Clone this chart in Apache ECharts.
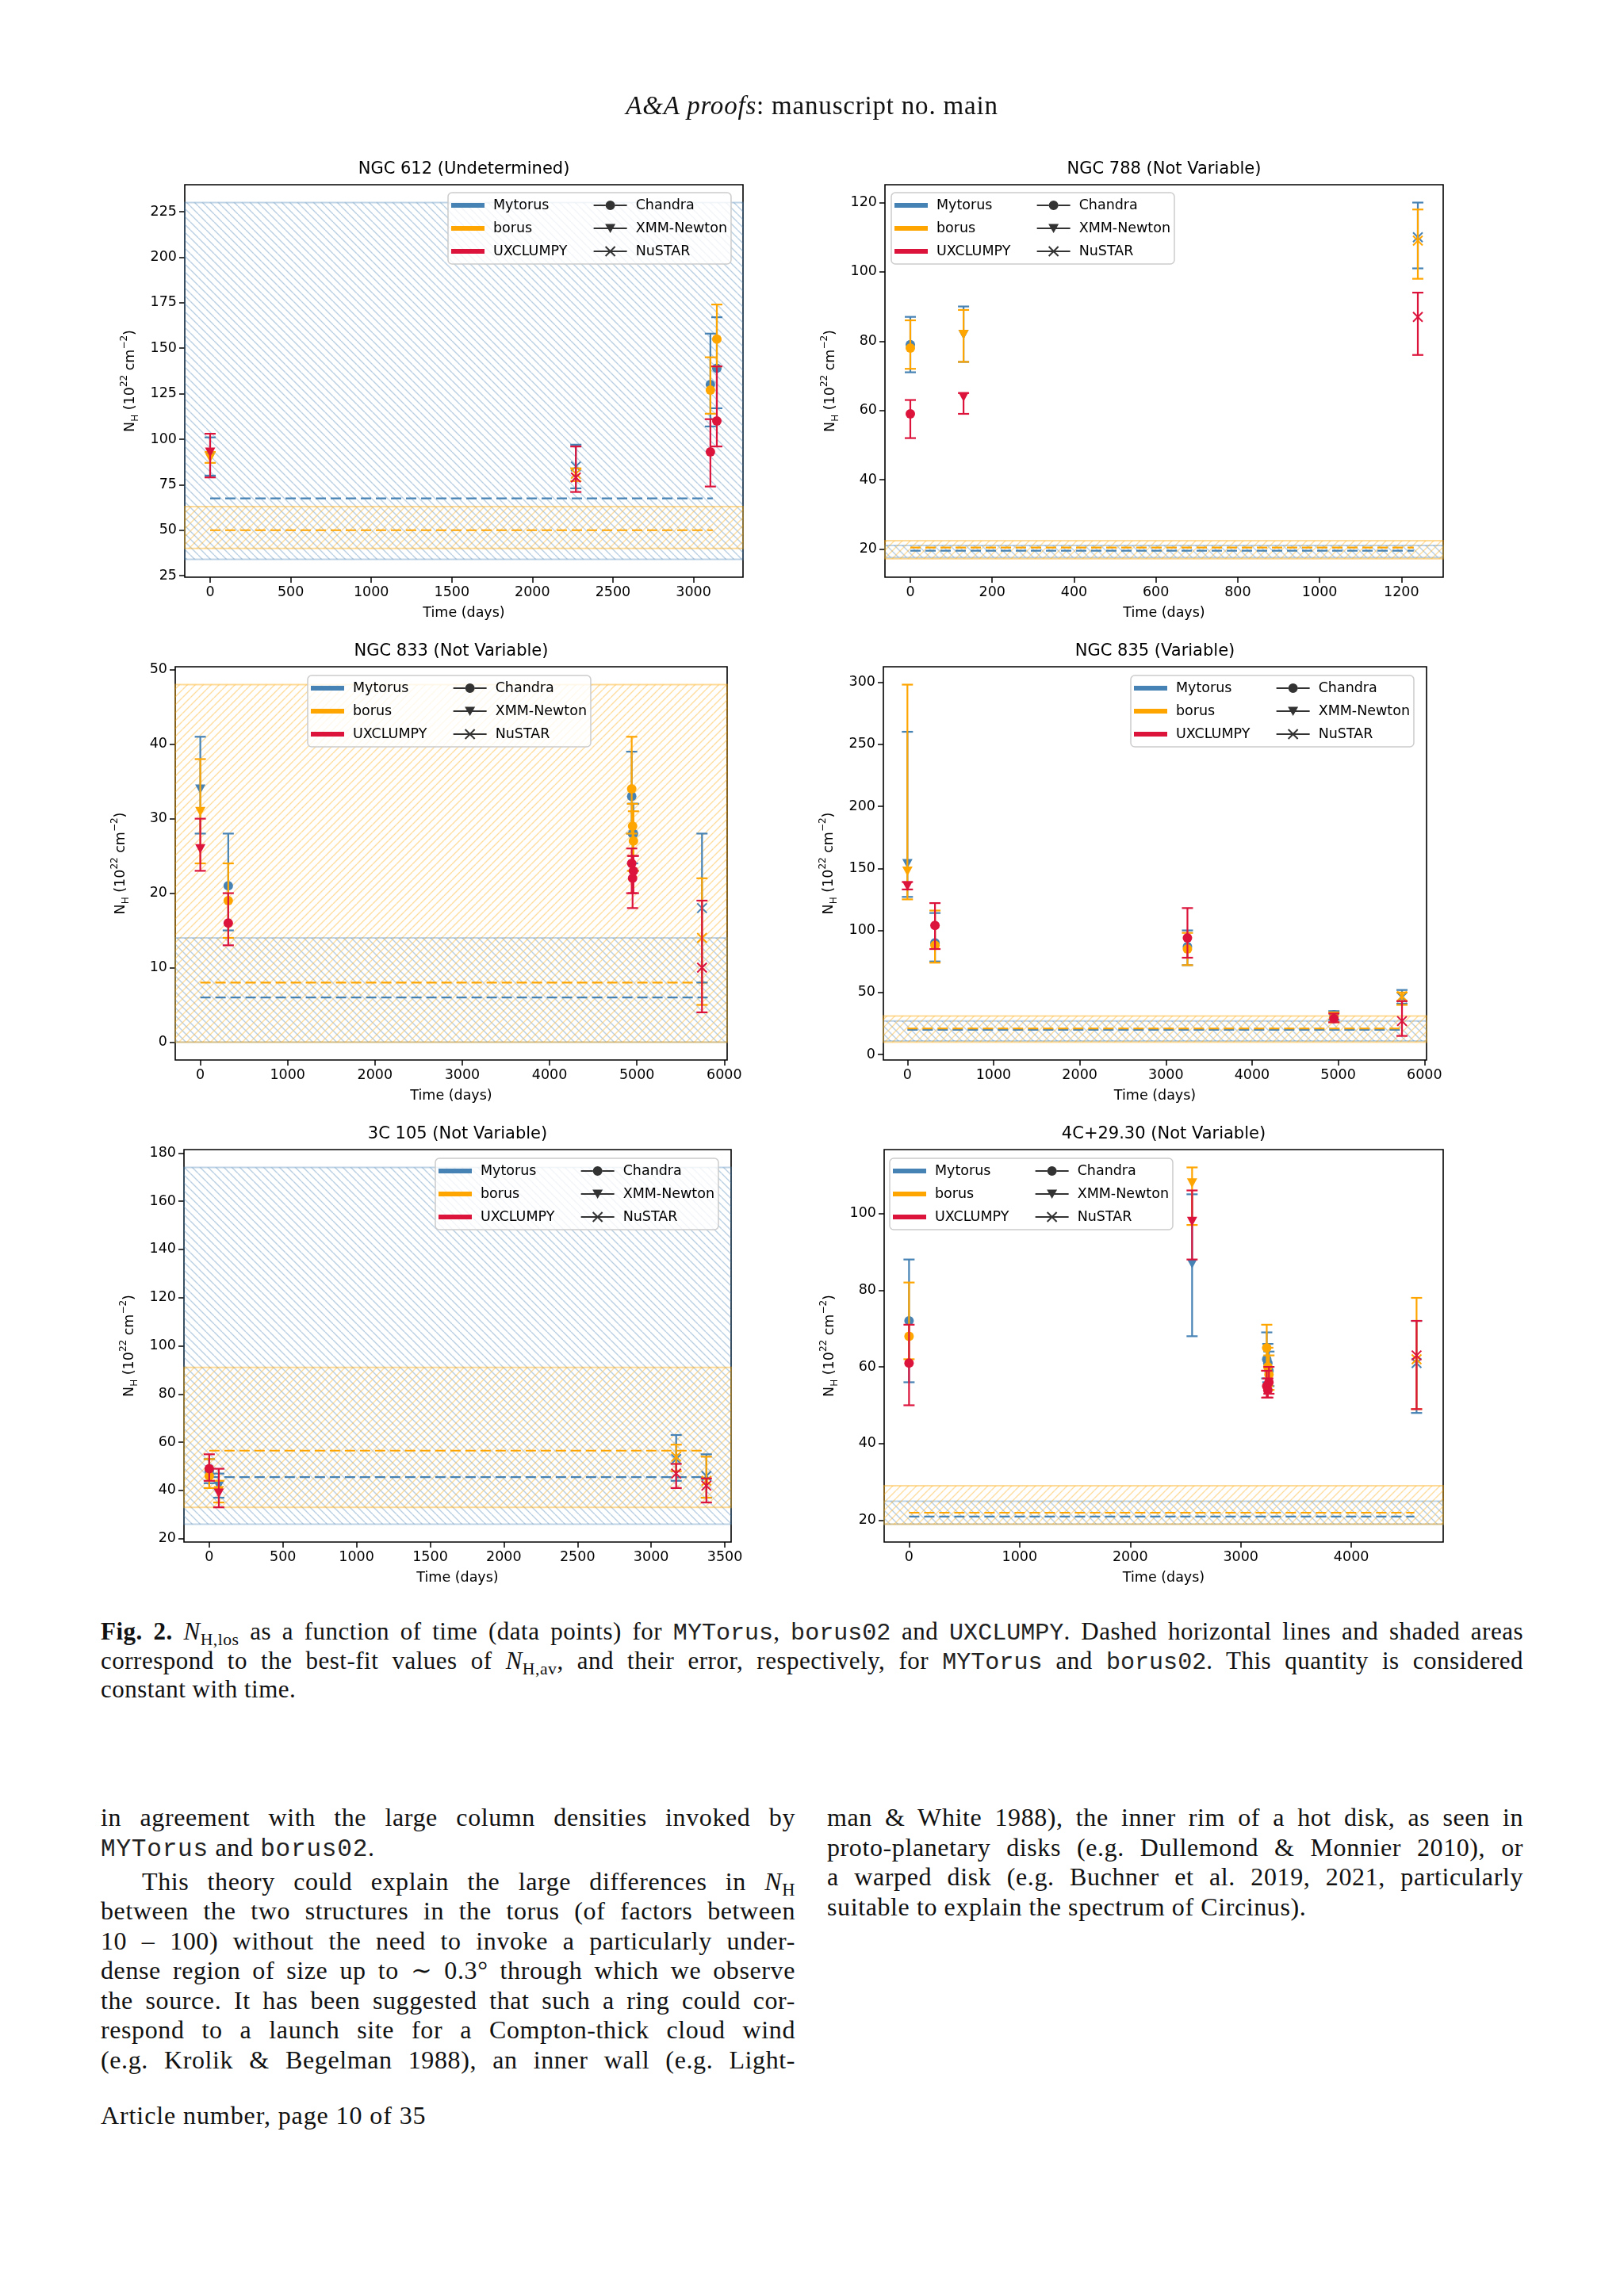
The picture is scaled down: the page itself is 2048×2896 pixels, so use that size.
<!DOCTYPE html>
<html>
<head>
<meta charset="utf-8">
<script src="https://cdn.jsdelivr.net/npm/echarts@6/dist/echarts.min.js"></script>
<style>
html, body { margin: 0; padding: 0; background: #fff; }
body { width: 2048px; height: 2896px; position: relative; overflow: hidden; color: #111;
       font-family: 'Liberation Serif', 'DejaVu Serif', serif; }
#figure { position: absolute; left: 0; top: 0; width: 2048px; height: 2000px; }
.tt { font-family: 'Liberation Mono', 'DejaVu Sans Mono', monospace; font-size: 0.97em; letter-spacing: 0; color: #222; }
.col .tt { letter-spacing: 0.8px; }
sub { font-size: 0.7em; line-height: 0; vertical-align: -0.3em; }
.ln { display: block; text-align: justify; text-align-last: justify; }
.last { text-align: left; text-align-last: left; }
#head { position: absolute; top: 113px; left: 0; width: 2048px; text-align: center; font-size: 33px; line-height: 40px; letter-spacing: 0.8px; }
#caption { position: absolute; left: 127px; top: 2041px; width: 1794px; font-size: 31px; line-height: 34.5px; letter-spacing: 0.5px; }
.col { position: absolute; top: 2274px; font-size: 32px; line-height: 37.5px; letter-spacing: 0.6px; }
#col1 { left: 127px; width: 876px; }
#col2 { left: 1043px; width: 878px; }
#foot { position: absolute; left: 127px; top: 2649px; font-size: 32px; line-height: 38px; letter-spacing: 0.9px; }
</style>
</head>
<body>
<div id="figure"></div>

<div id="head"><i>A&amp;A proofs</i>: manuscript no. main</div>

<div id="caption">
  <span class="ln"><b>Fig. 2.</b> <i>N</i><sub>H,los</sub> as a function of time (data points) for <span class="tt">MYTorus</span>, <span class="tt">borus02</span> and <span class="tt">UXCLUMPY</span>. Dashed horizontal lines and shaded areas</span>
  <span class="ln">correspond to the best-fit values of <i>N</i><sub>H,av</sub>, and their error, respectively, for <span class="tt">MYTorus</span> and <span class="tt">borus02</span>. This quantity is considered</span>
  <span class="ln last">constant with time.</span>
</div>

<div id="col1" class="col">
  <span class="ln">in agreement with the large column densities invoked by</span>
  <span class="ln last"><span class="tt">MYTorus</span> and <span class="tt">borus02</span>.</span>
  <span class="ln" style="padding-left:52px; margin-top:3.5px;">This theory could explain the large differences in <i>N</i><sub>H</sub></span>
  <span class="ln">between the two structures in the torus (of factors between</span>
  <span class="ln">10 – 100) without the need to invoke a particularly under-</span>
  <span class="ln">dense region of size up to ∼ 0.3° through which we observe</span>
  <span class="ln">the source. It has been suggested that such a ring could cor-</span>
  <span class="ln">respond to a launch site for a Compton-thick cloud wind</span>
  <span class="ln">(e.g. Krolik &amp; Begelman 1988), an inner wall (e.g. Light-</span>
</div>

<div id="col2" class="col">
  <span class="ln">man &amp; White 1988), the inner rim of a hot disk, as seen in</span>
  <span class="ln">proto-planetary disks (e.g. Dullemond &amp; Monnier 2010), or</span>
  <span class="ln">a warped disk (e.g. Buchner et al. 2019, 2021, particularly</span>
  <span class="ln last">suitable to explain the spectrum of Circinus).</span>
</div>

<div id="foot">Article number, page 10 of 35</div>

<script>
const models = ['Mytorus', 'borus', 'UXCLUMPY'];
const instruments = ['Chandra', 'XMM-Newton', 'NuSTAR'];
const modelColors = ['#4682B4', '#FFA500', '#DC143C'];

const titles = ['NGC 612 (Undetermined)', 'NGC 788 (Not Variable)', 'NGC 833 (Not Variable)',
    'NGC 835 (Variable)', '3C 105 (Not Variable)', '4C+29.30 (Not Variable)'];

// axis limits and tick labels
const xLimits = [[-157.5, 3307.5], [-62, 1302], [-287, 6033], [-279, 6025], [-171.5, 3543], [-225, 4831]];
const yLimits = [[24.2, 239.8], [11.85, 125.15], [-2.4, 50.4], [-4.4, 312.4], [18.6, 181.4], [14.35, 116.65]];
const xTicks = [
    [0, 500, 1000, 1500, 2000, 2500, 3000],
    [0, 200, 400, 600, 800, 1000, 1200],
    [0, 1000, 2000, 3000, 4000, 5000, 6000],
    [0, 1000, 2000, 3000, 4000, 5000, 6000],
    [0, 500, 1000, 1500, 2000, 2500, 3000, 3500],
    [0, 1000, 2000, 3000, 4000],
];
const yTicks = [
    [25, 50, 75, 100, 125, 150, 175, 200, 225],
    [20, 40, 60, 80, 100, 120],
    [0, 10, 20, 30, 40, 50],
    [0, 50, 100, 150, 200, 250, 300],
    [20, 40, 60, 80, 100, 120, 140, 160, 180],
    [20, 40, 60, 80, 100],
];

// points: [time (days), NH, lower, upper, instrument index]
const ngc612Mytorus = [[0, 91, 80, 101, 1], [2270, 85, 73, 97, 2], [3105, 130, 107, 158, 0], [3145, 139, 117, 167, 0]];
const ngc612Borus = [[0, 90, 87, 93, 1], [2270, 81, 77, 84, 2], [3105, 127, 114, 145, 0], [3145, 155, 140, 174, 0]];
const ngc612Uxclumpy = [[0, 93, 79, 103, 1], [2270, 79, 71, 96, 2], [3105, 93, 74, 111, 0], [3145, 110, 96, 140, 0]];

const ngc788Mytorus = [[0, 79, 71, 87, 0], [130, 82, 74, 90, 1], [1240, 110, 101, 120, 2]];
const ngc788Borus = [[0, 78, 72, 86, 0], [130, 82, 74, 89, 1], [1240, 109, 98, 118, 2]];
const ngc788Uxclumpy = [[0, 59, 52, 63, 0], [130, 64, 59, 65, 1], [1240, 87, 76, 94, 2]];

const ngc833Mytorus = [[0, 34, 28, 41, 1], [320, 21, 15, 28, 0], [4940, 33, 28, 39, 0], [4950, 28, 24, 32, 0], [4960, 28, 23, 32, 0], [5745, 18, 8, 28, 2]];
const ngc833Borus = [[0, 31, 24, 38, 1], [320, 19, 14, 24, 0], [4940, 34, 28, 41, 0], [4950, 29, 23, 32, 0], [4960, 27, 23, 31, 0], [5745, 14, 5, 22, 2]];
const ngc833Uxclumpy = [[0, 26, 23, 30, 1], [320, 16, 13, 20, 0], [4940, 24, 20, 26, 0], [4950, 22, 18, 25, 0], [4960, 23, 20, 25, 0], [5745, 10, 4, 19, 2]];

const ngc835Mytorus = [[0, 154, 127, 260, 1], [320, 90, 75, 114, 0], [3250, 87, 72, 100, 0], [4950, 32, 28, 35, 0], [5740, 46, 41, 52, 2]];
const ngc835Borus = [[0, 148, 125, 298, 1], [320, 88, 74, 116, 0], [3250, 85, 72, 98, 0], [4950, 30, 26, 34, 0], [5740, 47, 40, 50, 2]];
const ngc835Uxclumpy = [[0, 136, 133, 139, 1], [320, 104, 85, 122, 0], [3250, 94, 78, 118, 0], [4950, 29, 26, 33, 0], [5740, 27, 15, 43, 2]];

const c3c105Mytorus = [[0, 48, 43, 53, 0], [65, 42, 37, 47, 1], [3170, 53, 44, 63, 2], [3375, 46, 37, 55, 2]];
const c3c105Borus = [[0, 46, 41, 53, 0], [65, 40, 35, 44, 1], [3170, 54, 48, 59, 2], [3375, 44, 37, 54, 2]];
const c3c105Uxclumpy = [[0, 49, 44, 55, 0], [65, 39, 33, 49, 1], [3170, 47, 41, 51, 2], [3375, 42, 35, 45, 2]];

const c4c2930Mytorus = [[0, 72, 56, 88, 0], [2560, 87, 68, 105, 1], [3235, 62, 57, 69, 0], [3245, 61, 56, 66, 0], [3255, 59, 55, 64, 0], [4590, 61, 48, 72, 2]];
const c4c2930Borus = [[0, 68, 62, 82, 0], [2560, 108, 97, 112, 1], [3235, 65, 59, 71, 0], [3245, 60, 55, 65, 0], [3255, 58, 54, 63, 0], [4590, 62, 49, 78, 2]];
const c4c2930Uxclumpy = [[0, 61, 50, 71, 0], [2560, 98, 88, 106, 1], [3235, 55, 52, 59, 0], [3245, 54, 52, 57, 0], [3255, 56, 53, 60, 0], [4590, 63, 49, 72, 2]];

// N_H,av best fit and its error band, per panel
const mytorusAvg = [67.5, 19.5, 6, 20, 45.5, 21];
const borusAvg = [50, 20.4, 8, 21, 56.5, 22];
const mytorusBands = [[34, 230], [17.5, 21], [0, 14], [11, 27], [26, 174], [19, 25]];
const borusBands = [[40, 63], [17.2, 22.4], [0, 48], [10, 31], [33, 91], [19, 29]];
const avgSpan = [[0, 3120], [0, 1230], [0, 5810], [0, 5720], [0, 3375], [0, 4570]];

const panelPoints = [
    [ngc612Mytorus, ngc612Borus, ngc612Uxclumpy],
    [ngc788Mytorus, ngc788Borus, ngc788Uxclumpy],
    [ngc833Mytorus, ngc833Borus, ngc833Uxclumpy],
    [ngc835Mytorus, ngc835Borus, ngc835Uxclumpy],
    [c3c105Mytorus, c3c105Borus, c3c105Uxclumpy],
    [c4c2930Mytorus, c4c2930Borus, c4c2930Uxclumpy],
];

// layout: plot boxes [left, top, width, height] and legend corners
const gridBoxes = [[233, 233, 704, 495], [1116, 233, 704, 495], [221, 841, 696, 496],
    [1114, 841, 685, 496], [232, 1450, 690, 496], [1115, 1450, 705, 496]];
const legendPos = [[565, 243], [1124, 243], [388, 852], [1426, 852], [549, 1461], [1122, 1461]];

const FONT = 'DejaVu Sans';

function hatch(color, dir) {
    const s = 10;
    const c = document.createElement('canvas');
    c.width = s;
    c.height = s;
    const g = c.getContext('2d');
    g.strokeStyle = color;
    g.lineWidth = 1.4;
    [-s, 0, s].forEach((o) => {
        g.beginPath();
        if (dir === 'back') { g.moveTo(o, 0); g.lineTo(o + s, s); } else { g.moveTo(o, s); g.lineTo(o + s, 0); }
        g.stroke();
    });
    return c;
}
const blueHatch = hatch('rgba(70,130,180,0.38)', 'back');
const orangeHatch = hatch('rgba(255,165,0,0.38)', 'fwd');

// legend handles (extra moveTo points fix the box to 48x16)
const modelIcon = 'path://M0,0M0,5L42,5L42,11L0,11ZM48,16';
const instIcons = [
    'path://M0,0M0,7L15,7L15,9L0,9ZM27,7L42,7L42,9L27,9ZM15,8A6,6 0 1,0 27,8A6,6 0 1,0 15,8ZM48,16',
    'path://M0,0M0,7L42,7L42,9L0,9ZM14.5,2.5L27.5,2.5L21,14ZM48,16',
    'path://M0,0M0,7L42,7L42,9L0,9ZM14.3,2.7L15.7,1.3L27.7,13.3L26.3,14.7ZM26.3,1.3L27.7,2.7L15.7,14.7L14.3,13.3ZM48,16',
];
// the model column is wider than its text in the original legend
const colPad = '\u00a0\u00a0\u00a0\u00a0';

const CAP = 7;
function renderPoint(params, api) {
    const t = api.value(0);
    const pv = api.coord([t, api.value(1)]);
    const pl = api.coord([t, api.value(2)]);
    const ph = api.coord([t, api.value(3)]);
    const inst = api.value(4);
    const color = api.visual('color');
    const st = { stroke: color, lineWidth: 2.2 };
    const children = [
        { type: 'line', shape: { x1: pl[0], y1: pl[1], x2: ph[0], y2: ph[1] }, style: st },
        { type: 'line', shape: { x1: pl[0] - CAP, y1: pl[1], x2: pl[0] + CAP, y2: pl[1] }, style: st },
        { type: 'line', shape: { x1: ph[0] - CAP, y1: ph[1], x2: ph[0] + CAP, y2: ph[1] }, style: st },
    ];
    const [x, y] = pv;
    if (inst === 0) {
        children.push({ type: 'circle', shape: { cx: x, cy: y, r: 6 }, style: { fill: color } });
    } else if (inst === 1) {
        children.push({ type: 'polygon', shape: { points: [[x - 6.5, y - 5.5], [x + 6.5, y - 5.5], [x, y + 6.5]] }, style: { fill: color } });
    } else {
        const xs = { stroke: color, lineWidth: 2 };
        children.push({ type: 'line', shape: { x1: x - 6, y1: y - 6, x2: x + 6, y2: y + 6 }, style: xs });
        children.push({ type: 'line', shape: { x1: x - 6, y1: y + 6, x2: x + 6, y2: y - 6 }, style: xs });
    }
    return { type: 'group', children };
}

const grids = [];
const xAxes = [];
const yAxes = [];
const series = [];
const legends = [];
const graphics = [];

titles.forEach((title, i) => {
    const [l, t, w, h] = gridBoxes[i];
    grids.push({ left: l, top: t, width: w, height: h, show: true, borderColor: '#000', borderWidth: 1.6 });

    const tickStyle = { show: true, length: 7, lineStyle: { color: '#000', width: 1.5 } };
    const labelStyle = { color: '#000', fontFamily: FONT, fontSize: 17.5, margin: 10, formatter: (v) => String(v) };
    xAxes.push({
        type: 'value', gridIndex: i, min: xLimits[i][0], max: xLimits[i][1],
        name: 'Time (days)', nameLocation: 'middle', nameGap: 36,
        nameTextStyle: { color: '#000', fontFamily: FONT, fontSize: 17.5 },
        axisLine: { show: false, onZero: false }, splitLine: { show: false },
        axisTick: { ...tickStyle, customValues: xTicks[i] },
        axisLabel: { ...labelStyle, customValues: xTicks[i] },
    });
    yAxes.push({
        type: 'value', gridIndex: i, min: yLimits[i][0], max: yLimits[i][1],
        name: '{n|N}{s|H}{n| (10}{p|22}{n| cm}{p|−2}{n|)}', nameLocation: 'middle', nameGap: 56, nameRotate: 90,
        nameTextStyle: {
            color: '#000',
            rich: {
                n: { fontFamily: FONT, fontSize: 17.5, color: '#000', lineHeight: 26, verticalAlign: 'middle' },
                s: { fontFamily: FONT, fontSize: 12, color: '#000', lineHeight: 26, verticalAlign: 'bottom' },
                p: { fontFamily: FONT, fontSize: 12, color: '#000', lineHeight: 26, verticalAlign: 'top' },
            },
        },
        axisLine: { show: false, onZero: false }, splitLine: { show: false },
        axisTick: { ...tickStyle, customValues: yTicks[i] },
        axisLabel: { ...labelStyle, customValues: yTicks[i] },
    });

    // error bands and dashed best-fit lines
    [[mytorusBands, mytorusAvg, blueHatch, 'rgba(70,130,180,0.35)', 0],
        [borusBands, borusAvg, orangeHatch, 'rgba(255,165,0,0.4)', 1]].forEach(([bands, avg, pat, edge, m]) => {
        series.push({
            name: models[m] + ' avg', type: 'line', xAxisIndex: i, yAxisIndex: i, z: 1,
            data: [[avgSpan[i][0], avg[i]], [avgSpan[i][1], avg[i]]],
            symbol: 'none', silent: true,
            lineStyle: { color: modelColors[m], width: 2.2, type: [13, 6] },
            markArea: {
                silent: true,
                label: { show: false },
                itemStyle: { color: { image: pat, repeat: 'repeat' }, borderColor: edge, borderWidth: 2, opacity: 1 },
                emphasis: { disabled: true },
                data: [[{ yAxis: bands[i][0] }, { yAxis: bands[i][1] }]],
            },
        });
    });

    // data points with error bars
    panelPoints[i].forEach((pts, m) => {
        series.push({
            name: models[m], type: 'custom', xAxisIndex: i, yAxisIndex: i, z: 3,
            itemStyle: { color: modelColors[m] },
            encode: { x: 0, y: 1 },
            renderItem: renderPoint,
            data: pts,
            silent: true,
        });
    });

    legends.push({
        left: legendPos[i][0], top: legendPos[i][1], orient: 'vertical', height: 82,
        itemWidth: 48, itemHeight: 16, itemGap: 11, padding: [7, 5, 7, 4],
        backgroundColor: 'rgba(255,255,255,0.8)', borderColor: '#cccccc', borderWidth: 1.5, borderRadius: 5,
        selectedMode: false,
        formatter: (name) => (models.includes(name) ? name + colPad : name),
        textStyle: { fontFamily: FONT, fontSize: 17.5, color: '#000' },
        data: models.map((name, m) => ({ name, icon: modelIcon, itemStyle: { color: modelColors[m] } }))
            .concat(instruments.map((name, k) => ({ name, icon: instIcons[k], itemStyle: { color: '#000' } }))),
    });

    graphics.push({
        type: 'text', silent: true, x: l + w / 2, y: t - 19,
        style: { text: title, font: '21px "DejaVu Sans"', fill: '#000', textAlign: 'center', textVerticalAlign: 'middle' },
    });
});

// legend-only series for the instruments
instruments.forEach((name) => {
    series.push({ name, type: 'scatter', xAxisIndex: 0, yAxisIndex: 0, data: [], itemStyle: { color: '#000' } });
});

const chart = echarts.init(document.getElementById('figure'), null, { renderer: 'canvas' });
chart.setOption({
    animation: false,
    backgroundColor: 'transparent',
    grid: grids,
    xAxis: xAxes,
    yAxis: yAxes,
    legend: legends,
    graphic: graphics,
    series,
});
</script>
</body>
</html>
